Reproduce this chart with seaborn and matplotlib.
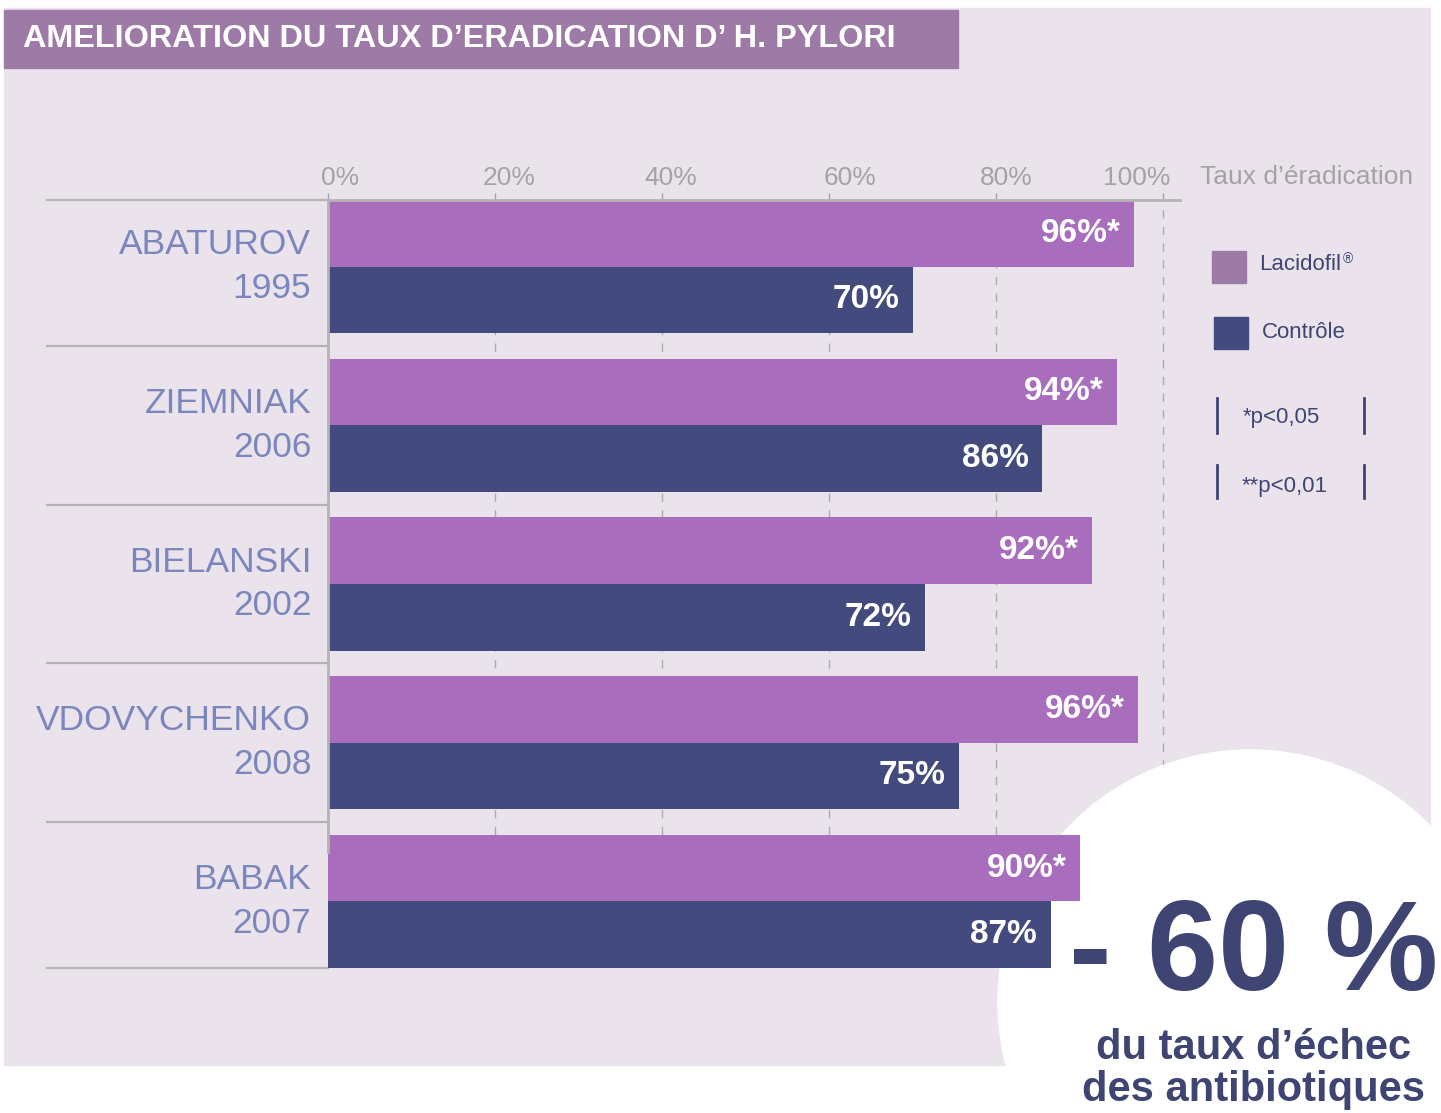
import matplotlib
matplotlib.use("Agg")
import matplotlib.pyplot as plt
import matplotlib.transforms as mtransforms
import seaborn as sns
import pandas as pd
from matplotlib.patches import Rectangle, Circle
from matplotlib.lines import Line2D

# ---- data ----
studies = ["ABATUROV\n1995", "ZIEMNIAK\n2006", "BIELANSKI\n2002",
           "VDOVYCHENKO\n2008", "BABAK\n2007"]
lacidofil = [96.5, 94.5, 91.5, 97, 90]
controle = [70, 85.5, 71.5, 75.5, 86.5]
lacidofil_labels = ["96%*", "94%*", "92%*", "96%*", "90%*"]
controle_labels = ["70%", "86%", "72%", "75%", "87%"]
groups = ["Lacidofil", "Contrôle"]
tick_values = [0, 20, 40, 60, 80, 100]
tick_labels = ["0%", "20%", "40%", "60%", "80%", "100%"]
# the tick labels in the original sit a little off their ticks (pixels)
tick_label_shift = [12, 14, 9, 21, 10, -27]

# ---- colours ----
panel = "#EAE3EC"
title_bg = "#9E7AA6"
bar_purple = "#A86DBC"
navy = "#424A7E"
text_navy = "#3F4573"
cat_color = "#7B86BD"
tick_gray = "#A3A3A3"
sep_gray = "#B4B4B4"

plt.rcParams["font.family"] = ["Liberation Sans", "DejaVu Sans"]

W, H = 1441, 1113
fig = plt.figure(figsize=(W / 100, H / 100), dpi=100)
fig.patch.set_facecolor("white")


def fx(px):
    return px / W


def fy(py):
    return 1 - py / H


# background panel + title band
fig.add_artist(Rectangle((fx(4), fy(1065)), fx(1430) - fx(4), fy(8) - fy(1065),
                         transform=fig.transFigure, color=panel, zorder=-2))
fig.add_artist(Rectangle((fx(4), fy(68)), fx(958) - fx(4), fy(10) - fy(68),
                         transform=fig.transFigure, color=title_bg, zorder=-1))
fig.text(fx(23), fy(39), "AMELIORATION DU TAUX D’ERADICATION D’ H. PYLORI",
         color="white", fontsize=23.3, fontweight="bold", va="center", ha="left")

# ---- bar chart ----
ax = fig.add_axes([fx(328), fy(968), fx(1180) - fx(328), fy(200) - fy(968)])
ax.set_facecolor("none")

df = pd.DataFrame({
    "Etude": studies * 2,
    "Taux": lacidofil + controle,
    "Groupe": [groups[0]] * len(studies) + [groups[1]] * len(studies),
})
sns.barplot(data=df, y="Etude", x="Taux", hue="Groupe", orient="h",
            palette=[bar_purple, navy], width=0.84, gap=0, saturation=1,
            errorbar=None, legend=False, linewidth=0, ax=ax)
for bar in ax.patches:
    bar.set_zorder(2)

ax.set_xlim(0, 102)
ax.set_ylim(4.42, -0.42)
ax.set_xlabel("")
ax.set_ylabel("")

# top axis
ax.xaxis.tick_top()
ax.set_xticks(tick_values, tick_labels)
ax.tick_params(axis="x", colors=tick_gray, labelsize=19, length=5, width=1, pad=2)
for lbl, dx in zip(ax.get_xticklabels(), tick_label_shift):
    lbl.set_transform(lbl.get_transform() +
                      mtransforms.ScaledTranslation(dx / 100, 0, fig.dpi_scale_trans))

ax.tick_params(axis="y", length=0, pad=12, labelsize=25.5, labelcolor=cat_color)
for t in ax.get_yticklabels():
    t.set_linespacing(1.4)
    t.set_va("center")

ax.set_axisbelow(True)
ax.xaxis.grid(True, linestyle=(0, (6, 6)), color="#ABABAB", linewidth=1)

for side in ["right", "bottom"]:
    ax.spines[side].set_visible(False)
ax.spines["top"].set_color(sep_gray)
ax.spines["top"].set_linewidth(2)
ax.spines["left"].set_color(sep_gray)
ax.spines["left"].set_linewidth(2)
ax.spines["left"].set_bounds(-0.42, 3.69)

# row separators on the label side
trans = mtransforms.blended_transform_factory(ax.transAxes, ax.transData)
for yv in [-0.42, 0.5, 1.5, 2.5, 3.5, 4.42]:
    ax.plot([-0.33, 0], [yv, yv], transform=trans, color=sep_gray, lw=1.6,
            clip_on=False, zorder=1)

# value labels inside the bars
for container, labs in zip(ax.containers, [lacidofil_labels, controle_labels]):
    for rect, lab in zip(container, labs):
        ax.text(rect.get_width() - 1.6, rect.get_y() + rect.get_height() / 2, lab,
                ha="right", va="center", color="white", fontsize=24,
                fontweight="bold", zorder=4)

# white circle behind the "- 60 %" message
ax.add_artist(Circle((12.50, 1.11), 2.52, transform=fig.dpi_scale_trans,
                     color="white", clip_on=False, zorder=1.5))

# ---- legend ----
fig.text(fx(1200), fy(177), "Taux d’éradication", color=tick_gray, fontsize=19,
         va="center", ha="left")
fig.add_artist(Rectangle((fx(1212), fy(283)), fx(34), 32 / H,
                         transform=fig.transFigure, color="#9E7AA6"))
fig.add_artist(Rectangle((fx(1214), fy(349)), fx(34), 32 / H,
                         transform=fig.transFigure, color=navy))
fig.text(fx(1259), fy(265), "Lacidofil", color=text_navy, fontsize=16, va="center")
fig.text(fx(1343), fy(259), "®", color=text_navy, fontsize=10, va="center")
fig.text(fx(1262), fy(333), "Contrôle", color=text_navy, fontsize=16, va="center")
fig.text(fx(1243), fy(417), "*p<0,05", color=text_navy, fontsize=16, va="center")
fig.text(fx(1242), fy(486), "**p<0,01", color=text_navy, fontsize=16, va="center")
for x0 in [1217, 1364]:
    fig.add_artist(Line2D([fx(x0), fx(x0)], [fy(398), fy(433)], color=text_navy, lw=2))
    fig.add_artist(Line2D([fx(x0), fx(x0)], [fy(465), fy(498)], color=text_navy, lw=2))

# ---- big message ----
fig.text(fx(1254), fy(990), "- 60 %", color=text_navy, fontsize=92,
         fontweight="bold", ha="center", va="baseline")
fig.text(fx(1254), fy(1059), "du taux d’échec", color=text_navy, fontsize=30,
         fontweight="bold", ha="center", va="baseline")
fig.text(fx(1254), fy(1101), "des antibiotiques", color=text_navy, fontsize=30,
         fontweight="bold", ha="center", va="baseline")

fig.savefig("out.png", dpi=100)
